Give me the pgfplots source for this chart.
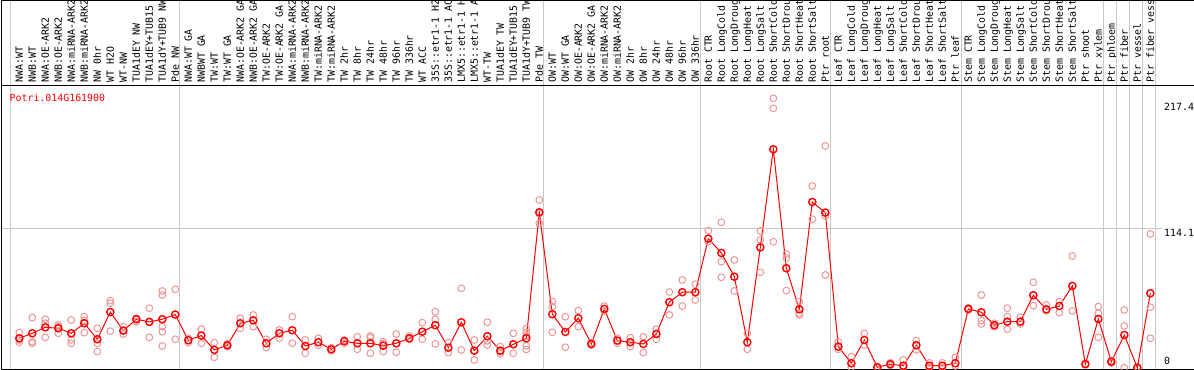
\documentclass[border=0pt]{standalone}
\usepackage{pgfplots}
\pgfplotsset{compat=1.18}
\usepackage{pgfplotstable}
\usepackage{fontspec}
\newfontfamily\monof{DejaVu Sans Mono}
\newcommand\lbl{\fontsize{9.9}{11}\selectfont\monof}
\definecolor{meanred}{RGB}{255,0,0}
\definecolor{reppink}{RGB}{238,150,150}
\definecolor{sepgray}{RGB}{200,200,200}

\pgfplotstableread{
x y
0 24.1
1 28.2
2 33.1
3 32.3
4 28.2
5 36.4
6 23.3
7 45.6
8 30.4
9 39.7
10 37.5
11 39.7
12 43.5
13 22.5
14 26.3
15 14.6
16 18.4
17 36.4
18 38.8
19 20.0
20 28.2
21 30.7
22 17.8
23 20.9
24 15.1
25 21.7
26 20.0
27 20.0
28 18.1
29 20.0
30 24.1
31 29.5
32 34.8
33 16.4
34 37.2
35 14.0
36 25.8
37 14.0
38 19.2
39 24.1
40 127.2
41 43.8
42 29.3
43 40.5
44 19.5
45 48.1
46 22.2
47 20.9
48 19.5
49 27.6
50 53.6
51 61.8
52 61.8
53 105.6
54 93.9
55 74.5
56 20.9
57 98.5
58 178.7
59 81.4
60 47.8
61 135.6
62 126.9
63 17.3
64 3.7
65 22.7
66 0.4
67 2.9
68 1.7
69 18.4
70 1.7
71 1.7
72 3.7
73 48.1
74 45.4
75 34.8
76 37.7
77 37.7
78 59.3
79 47.8
80 50.5
81 66.9
82 2.9
83 39.9
84 5.0
85 26.8
86 0.0
87 60.9
}\meantable

\pgfplotstableread{
x y
0 28.7
0 22.7
0 20.9
1 41.0
1 21.3
1 20.0
2 39.7
2 36.4
2 24.9
3 35.0
3 28.2
3 33.7
4 39.1
4 22.7
4 20.0
5 41.8
5 28.7
5 36.4
5 38.6
6 32.3
6 20.0
6 13.2
6 23.3
7 54.9
7 52.8
7 29.9
8 33.6
8 27.6
8 30.4
9 40.5
9 37.7
9 39.7
10 48.7
10 24.9
10 37.7
11 62.8
11 59.5
11 33.6
11 29.5
11 17.8
12 64.2
12 23.3
13 24.1
13 20.5
14 31.7
14 20.0
15 20.5
15 8.6
16 19.5
16 17.3
16 18.4
17 40.5
17 32.3
18 43.2
18 33.6
19 23.3
19 16.4
20 30.9
20 24.1
21 41.8
21 20.0
22 22.7
22 11.9
23 24.1
23 18.6
24 16.4
24 14.0
25 22.7
25 20.0
26 25.4
26 15.1
27 26.0
27 11.9
27 24.6
28 21.3
28 13.2
28 19.7
29 27.6
29 12.7
30 26.0
30 23.3
30 24.1
31 36.9
31 23.3
32 45.9
32 39.7
32 19.5
33 20.5
33 12.4
34 65.0
34 14.6
35 22.7
35 6.4
35 14.0
36 37.2
36 18.6
36 22.0
37 17.3
37 13.2
37 11.5
38 28.2
38 11.9
39 32.0
39 29.0
39 18.0
39 15.0
39 26.0
40 137.2
40 118.2
40 126.0
41 54.1
41 50.0
41 29.0
42 41.8
42 16.8
43 46.7
43 33.6
44 20.5
44 18.5
45 50.5
45 46.5
46 24.1
46 20.0
47 24.6
47 17.3
48 25.4
48 12.4
49 31.5
49 23.3
50 62.0
50 43.2
51 71.8
51 50.5
52 68.3
52 55.5
53 112.1
53 103.1
54 119.0
54 86.8
54 74.0
55 88.2
55 62.8
56 28.2
56 15.1
57 111.9
57 104.5
57 78.1
58 220.4
58 212.2
58 103.1
59 93.1
59 89.6
59 63.1
60 54.1
60 44.6
60 43.2
61 148.7
61 121.5
62 181.4
62 124.2
62 75.9
63 21.3
63 15.1
64 9.1
64 0.4
65 28.2
65 18.6
66 0.4
66 0.2
67 4.0
67 2.0
68 6.4
68 0.3
69 22.2
69 14.6
70 4.0
70 0.5
71 4.0
71 0.5
72 8.6
72 1.5
73 49.0
73 47.5
74 59.5
74 38.5
74 35.8
75 36.4
75 33.6
76 48.7
76 41.8
76 31.5
77 41.3
77 35.8
78 69.9
78 50.8
79 51.4
79 46.7
80 54.1
80 45.1
81 91.4
81 46.5
82 2.9
82 3.5
83 50.0
83 44.6
83 24.9
84 6.0
84 4.0
85 47.3
85 34.2
85 0.0
86 0.0
86 0.5
87 109.4
87 49.5
87 24.1
}\reptable

\begin{document}
\begin{tikzpicture}
\begin{axis}[
  scale only axis,
  width=1153.5pt, height=284pt,
  xmin=-1.369, xmax=87.36,
  ymin=-1.39, ymax=230.9,
  axis line style={draw=none},
  clip=false,
  xtick={0,...,87},
  xticklabels={NWA:WT, NWB:WT, NWA:OE-ARK2, NWB:OE-ARK2, NWA:miRNA-ARK2, NWB:miRNA-ARK2, NW 0hr, WT H2O, WT-NW, TUA1dEY NW, TUA1dEY+TUB15, TUA1dY+TUB9 NW, Pde NW,
    NWA:WT GA, NWBWT GA, TW:WT, TW:WT GA, NWA:OE-ARK2 GA, NWB:OE-ARK2 GA, TW:OE-ARK2, TW:OE-ARK2 GA, NWA:miRNA-ARK2, NWB:miRNA-ARK2, TW:miRNA-ARK2, TW:miRNA-ARK2, TW 2hr, TW 8hr, TW 24hr, TW 48hr, TW 96hr, TW 336hr, WT ACC, 35S::etr1-1 H2, 35S::etr1-1 AC, LMX5::etr1-1 H, LMX5::etr1-1 A, WT-TW, TUA1dEY TW, TUA1dEY+TUB15, TUA1dY+TUB9 TW, Pde TW,
    OW:WT, OW:WT GA, OW:OE-ARK2, OW:OE-ARK2 GA, OW:miRNA-ARK2, OW:miRNA-ARK2, OW 2hr, OW 8hr, OW 24hr, OW 48hr, OW 96hr, OW 336hr,
    Root CTR, Root LongCold, Root LongDroug, Root LongHeat, Root LongSalt, Root ShortCold, Root ShortDrou, Root ShortHeat, Root ShortSalt, Ptr root,
    Leaf CTR, Leaf LongCold, Leaf LongDroug, Leaf LongHeat, Leaf LongSalt, Leaf ShortCold, Leaf ShortDrou, Leaf ShortHeat, Leaf ShortSalt, Ptr leaf,
    Stem CTR, Stem LongCold, Stem LongDroug, Stem LongHeat, Stem LongSalt, Stem ShortCold, Stem ShortDrou, Stem ShortHeat, Stem ShortSalt, Ptr shoot,
    Ptr xylem, Ptr phloem, Ptr fiber, Ptr vessel, Ptr fiber vess},
  xticklabel pos=upper,
  xtick style={draw=none},
  xticklabel style={rotate=90, anchor=west, font=\lbl, inner xsep=2.5pt, inner ysep=0pt, text height=0.73em, text depth=0pt},
  ytick={114.1,217.4},
  yticklabels={114.1,217.4},
  extra y ticks={0},
  extra y tick labels={0},
  extra y tick style={yticklabel style={anchor=south west, yshift=2pt}},
  yticklabel pos=right,
  ytick style={draw=none},
  yticklabel style={anchor=north west, font=\lbl, inner sep=0.5pt, xshift=8.5pt},
]
% separators
\pgfplotsinvokeforeach{-0.64,12.36,40.36,52.36,62.43,72.44,83.36,84.36,85.36,86.36,87.36}{
  \draw[sepgray, line width=1pt] (axis cs:#1,-1.8) -- (axis cs:#1,300.8);
}
% grid line at 114.1
\draw[sepgray, line width=1pt] (axis cs:-1.369,114.1) -- (axis cs:87.9,114.1);
% frame
\draw[black, line width=1pt] (axis cs:-1.369,-1.8) -- (axis cs:-1.369,300.8);
\draw[black, line width=1pt] (axis cs:-1.369,230.9) -- (axis cs:90.36,230.9);
\draw[black, line width=1pt] (axis cs:-1.369,-1.39) -- (axis cs:90.36,-1.39);
\draw[black, line width=1pt] (axis cs:-1.369,300.4) -- (axis cs:90.36,300.4);
% gene name
\node[anchor=base west, inner sep=0pt, text=meanred, font=\lbl] at (axis cs:-0.754,217.8) {Potri.014G161900};
% replicates
\addplot[only marks, mark=o, mark size=3.4pt, color=reppink, mark options={line width=1pt}] table[x=x,y=y]{\reptable};
% means
\addplot[color=meanred, line width=1pt, mark=o, mark size=3.6pt, mark options={line width=1.4pt}] table[x=x,y=y]{\meantable};
\coordinate (bbl) at (axis cs:-1.4846,-1.8);
\coordinate (btr) at (axis cs:90.36,300.8);
\end{axis}
\pgfresetboundingbox
\path[use as bounding box] (bbl) rectangle (btr);
\end{tikzpicture}
\end{document}
